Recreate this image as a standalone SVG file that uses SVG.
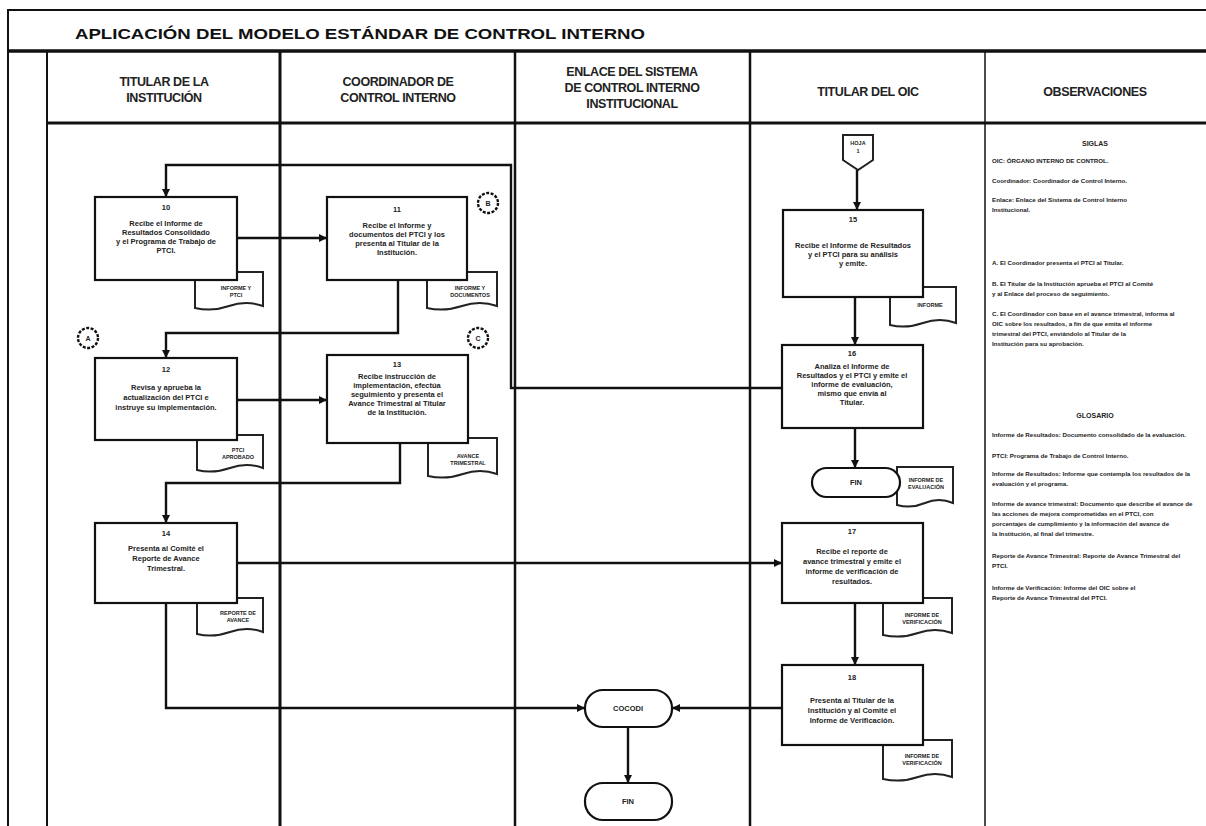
<svg xmlns="http://www.w3.org/2000/svg" width="1206" height="826" viewBox="0 0 1206 826">
<style>
.frame{stroke:#111;fill:none}
.box{fill:#fff;stroke:#111;stroke-width:2.2}
.doc{fill:#fff;stroke:#222;stroke-width:2}
.term{fill:#fff;stroke:#111;stroke-width:2.2}
.con{fill:none;stroke:#111;stroke-width:2.4}
.ttl{font-family:"Liberation Sans",Arial,sans-serif;font-weight:bold;font-size:15px;fill:#111}
.hd{font-family:"Liberation Sans",Arial,sans-serif;font-weight:bold;font-size:12.5px;fill:#222;text-anchor:middle;letter-spacing:-0.4px}
.t{font-family:"Liberation Sans",Arial,sans-serif;font-weight:bold;font-size:7.5px;fill:#222;text-anchor:middle}
.s{font-family:"Liberation Sans",Arial,sans-serif;font-weight:bold;font-size:5.5px;fill:#222;text-anchor:middle}
.o{font-family:"Liberation Sans",Arial,sans-serif;font-weight:bold;font-size:6.2px;fill:#222}
.oc{font-family:"Liberation Sans",Arial,sans-serif;font-weight:bold;font-size:7px;fill:#222;text-anchor:middle}
.cir{fill:#fff;stroke:#111;stroke-width:2.4}
</style>
<defs>
<marker id="ah" markerWidth="8" markerHeight="8" refX="7" refY="4" orient="auto" markerUnits="userSpaceOnUse">
<path d="M0,0 L8,4 L0,8 Z" fill="#111"/>
</marker>
</defs>
<rect width="1206" height="826" fill="#fff"/>
<g id="frame">
<path class="frame" stroke-width="2" d="M8,826 V10 H1206"/>
<path class="frame" stroke-width="3.5" d="M8,51 H1206"/>
<path class="frame" stroke-width="3" d="M47,123 H1206"/>
<path class="frame" stroke-width="2" d="M47,51 V826"/>
<path class="frame" stroke-width="3" d="M280,51 V826"/>
<path class="frame" stroke-width="2.5" d="M515,51 V826"/>
<path class="frame" stroke-width="2.5" d="M750,51 V826"/>
<path class="frame" stroke-width="1.5" stroke="#555" d="M985,51 V826"/>
<text class="ttl" x="75" y="39" textLength="570" lengthAdjust="spacingAndGlyphs">APLICACIÓN DEL MODELO ESTÁNDAR DE CONTROL INTERNO</text>
<text class="hd" x="164" y="86">TITULAR DE LA</text>
<text class="hd" x="164" y="102">INSTITUCIÓN</text>
<text class="hd" x="398" y="86">COORDINADOR DE</text>
<text class="hd" x="398" y="102">CONTROL INTERNO</text>
<text class="hd" x="632" y="76">ENLACE DEL SISTEMA</text>
<text class="hd" x="632" y="92">DE CONTROL INTERNO</text>
<text class="hd" x="632" y="108">INSTITUCIONAL</text>
<text class="hd" x="868" y="96">TITULAR DEL OIC</text>
<text class="hd" x="1095" y="96">OBSERVACIONES</text>
</g>
<g id="connectors">
<path class="con" d="M782,388 H511 V165 H166 V196" marker-end="url(#ah)"/>
<path class="con" d="M237,238 H326" marker-end="url(#ah)"/>
<path class="con" d="M398,280 V333 H166 V357" marker-end="url(#ah)"/>
<path class="con" d="M237,400 H326" marker-end="url(#ah)"/>
<path class="con" d="M400,443 V483 H166 V522" marker-end="url(#ah)"/>
<path class="con" d="M237,563 H781" marker-end="url(#ah)"/>
<path class="con" d="M166,603 V708 H584" marker-end="url(#ah)"/>
<path class="con" d="M857,170 V209" marker-end="url(#ah)"/>
<path class="con" d="M855,297 V344" marker-end="url(#ah)"/>
<path class="con" d="M855,428 V467" marker-end="url(#ah)"/>
<path class="con" d="M855,603 V664" marker-end="url(#ah)"/>
<path class="con" stroke-width="3.2" d="M782,708 H673" marker-end="url(#ah)"/>
<path class="con" d="M628,727 V782" marker-end="url(#ah)"/>
</g>
<g id="n10">
<path class="doc" d="M195,272 h68 v34 q-17,-6 -34,0 t-34,2 z"/>
<text class="s" x="236" y="290">INFORME Y</text>
<text class="s" x="236" y="297">PTCI</text>
<rect class="box" x="95" y="197" width="142" height="83"/>
<text class="t" x="166" y="210">10</text>
<text class="t" x="166" y="226">Recibe el Informe de</text>
<text class="t" x="166" y="235">Resultados Consolidado</text>
<text class="t" x="166" y="244">y el Programa de Trabajo de</text>
<text class="t" x="166" y="253">PTCI.</text>
</g>
<g id="n11">
<path class="doc" d="M427,272 h70 v34 q-17,-6 -35,0 t-35,2 z"/>
<text class="s" x="470" y="290">INFORME Y</text>
<text class="s" x="470" y="297">DOCUMENTOS</text>
<rect class="box" x="327" y="197" width="140" height="83"/>
<text class="t" x="397" y="212">11</text>
<text class="t" x="397" y="228">Recibe el Informe y</text>
<text class="t" x="397" y="237">documentos del PTCI y los</text>
<text class="t" x="397" y="246">presenta al Titular de la</text>
<text class="t" x="397" y="255">Institución.</text>
</g>
<g id="cB">
<circle class="cir" cx="488" cy="203" r="10" stroke-dasharray="3 1.5"/>
<text class="oc" x="488" y="206">B</text>
</g>
<g id="cA">
<circle class="cir" cx="88" cy="338" r="10" stroke-dasharray="3 1.5"/>
<text class="oc" x="88" y="341">A</text>
</g>
<g id="cC">
<circle class="cir" cx="478" cy="338" r="10" stroke-dasharray="3 1.5"/>
<text class="oc" x="478" y="341">C</text>
</g>
<g id="n12">
<path class="doc" d="M197,435 h66 v33 q-16,-6 -33,0 t-33,2 z"/>
<text class="s" x="238" y="452">PTCI</text>
<text class="s" x="238" y="459">APROBADO</text>
<rect class="box" x="95" y="358" width="142" height="82"/>
<text class="t" x="166" y="372">12</text>
<text class="t" x="166" y="390">Revisa y aprueba la</text>
<text class="t" x="166" y="400">actualización del PTCI e</text>
<text class="t" x="166" y="410">instruye su implementación.</text>
</g>
<g id="n13">
<path class="doc" d="M428,438 h69 v36 q-17,-6 -34,0 t-35,2 z"/>
<text class="s" x="468" y="458">AVANCE</text>
<text class="s" x="468" y="465">TRIMESTRAL</text>
<rect class="box" x="327" y="355" width="141" height="88"/>
<text class="t" x="397" y="367">13</text>
<text class="t" x="397" y="379">Recibe instrucción de</text>
<text class="t" x="397" y="388">implementación, efectúa</text>
<text class="t" x="397" y="397">seguimiento y presenta el</text>
<text class="t" x="397" y="406">Avance Trimestral al Titular</text>
<text class="t" x="397" y="415">de la Institución.</text>
</g>
<g id="n14">
<path class="doc" d="M197,598 h66 v34 q-16,-6 -33,0 t-33,2 z"/>
<text class="s" x="238" y="615">REPORTE DE</text>
<text class="s" x="238" y="622">AVANCE</text>
<rect class="box" x="95" y="523" width="142" height="80"/>
<text class="t" x="166" y="536">14</text>
<text class="t" x="166" y="551">Presenta al Comité el</text>
<text class="t" x="166" y="561">Reporte de Avance</text>
<text class="t" x="166" y="571">Trimestral.</text>
</g>
<g id="off1">
<path class="doc" d="M843,135 H873 V160 L858,170 L843,160 Z"/>
<text class="s" x="858" y="145">HOJA</text>
<text class="s" x="858" y="153">1</text>
</g>
<g id="n15">
<path class="doc" d="M890,287 h66 v36 q-16,-6 -33,0 t-33,2 z"/>
<text class="s" x="930" y="307">INFORME</text>
<rect class="box" x="783" y="210" width="140" height="87"/>
<text class="t" x="853" y="222">15</text>
<text class="t" x="853" y="248">Recibe el Informe de Resultados</text>
<text class="t" x="853" y="257">y el PTCI para su análisis</text>
<text class="t" x="853" y="266">y emite.</text>
</g>
<g id="n16">
<rect class="box" x="782" y="345" width="141" height="83"/>
<text class="t" x="852" y="356">16</text>
<text class="t" x="852" y="369">Analiza el Informe de</text>
<text class="t" x="852" y="378">Resultados y el PTCI y emite el</text>
<text class="t" x="852" y="387">informe de evaluación,</text>
<text class="t" x="852" y="396">mismo que envía al</text>
<text class="t" x="852" y="405">Titular.</text>
</g>
<g id="fin1">
<path class="doc" d="M897,467 h56 v36 q-14,-6 -28,0 t-28,2 z"/>
<text class="s" x="926" y="482">INFORME DE</text>
<text class="s" x="926" y="489">EVALUACIÓN</text>
<rect class="term" x="812" y="468" width="88" height="29" rx="14.5"/>
<text class="t" x="856" y="485">FIN</text>
</g>
<g id="n17">
<path class="doc" d="M883,598 h69 v35 q-17,-6 -34,0 t-35,2 z"/>
<text class="s" x="922" y="617">INFORME DE</text>
<text class="s" x="922" y="624">VERIFICACIÓN</text>
<rect class="box" x="782" y="523" width="141" height="80"/>
<text class="t" x="852" y="534">17</text>
<text class="t" x="852" y="554">Recibe el reporte de</text>
<text class="t" x="852" y="564">avance trimestral y emite el</text>
<text class="t" x="852" y="574">informe de verificación de</text>
<text class="t" x="852" y="584">resultados.</text>
</g>
<g id="n18">
<path class="doc" d="M883,740 h69 v37 q-17,-6 -34,0 t-35,2 z"/>
<text class="s" x="922" y="758">INFORME DE</text>
<text class="s" x="922" y="765">VERIFICACIÓN</text>
<rect class="box" x="782" y="665" width="141" height="80"/>
<text class="t" x="852" y="680">18</text>
<text class="t" x="852" y="703">Presenta al Titular de la</text>
<text class="t" x="852" y="713">Institución y al Comité el</text>
<text class="t" x="852" y="723">Informe de Verificación.</text>
</g>
<g id="cocodi">
<rect class="term" x="585" y="690" width="87" height="37" rx="18"/>
<text class="t" x="628" y="711">COCODI</text>
</g>
<g id="fin2">
<rect class="term" x="585" y="783" width="87" height="37" rx="18"/>
<text class="t" x="628" y="804">FIN</text>
</g>
<g id="observaciones">
<text class="oc" x="1095" y="146">SIGLAS</text>
<text class="o" x="992" y="163">OIC: ÓRGANO INTERNO DE CONTROL.</text>
<text class="o" x="992" y="183">Coordinador: Coordinador de Control Interno.</text>
<text class="o" x="992" y="202">Enlace: Enlace del Sistema de Control Interno</text>
<text class="o" x="992" y="212">Institucional.</text>
<text class="o" x="992" y="265">A. El Coordinador presenta el PTCI al Titular.</text>
<text class="o" x="992" y="286">B. El Titular de la Institución aprueba el PTCI al Comité</text>
<text class="o" x="992" y="296">y al Enlace del proceso de seguimiento.</text>
<text class="o" x="992" y="316">C. El Coordinador con base en el avance trimestral, informa al</text>
<text class="o" x="992" y="326">OIC sobre los resultados, a fin de que emita el informe</text>
<text class="o" x="992" y="336">trimestral del PTCI, enviándolo al Titular de la</text>
<text class="o" x="992" y="346">Institución para su aprobación.</text>
<text class="oc" x="1095" y="418">GLOSARIO</text>
<text class="o" x="992" y="437">Informe de Resultados: Documento consolidado de la evaluación.</text>
<text class="o" x="992" y="458">PTCI: Programa de Trabajo de Control Interno.</text>
<text class="o" x="992" y="476">Informe de Resultados: Informe que contempla los resultados de la</text>
<text class="o" x="992" y="486">evaluación y el programa.</text>
<text class="o" x="992" y="506">Informe de avance trimestral: Documento que describe el avance de</text>
<text class="o" x="992" y="516">las acciones de mejora comprometidas en el PTCI, con</text>
<text class="o" x="992" y="526">porcentajes de cumplimiento y la información del avance de</text>
<text class="o" x="992" y="536">la Institución, al final del trimestre.</text>
<text class="o" x="992" y="558">Reporte de Avance Trimestral: Reporte de Avance Trimestral del</text>
<text class="o" x="992" y="568">PTCI.</text>
<text class="o" x="992" y="590">Informe de Verificación: Informe del OIC sobre el</text>
<text class="o" x="992" y="600">Reporte de Avance Trimestral del PTCI.</text>
</g>
</svg>
